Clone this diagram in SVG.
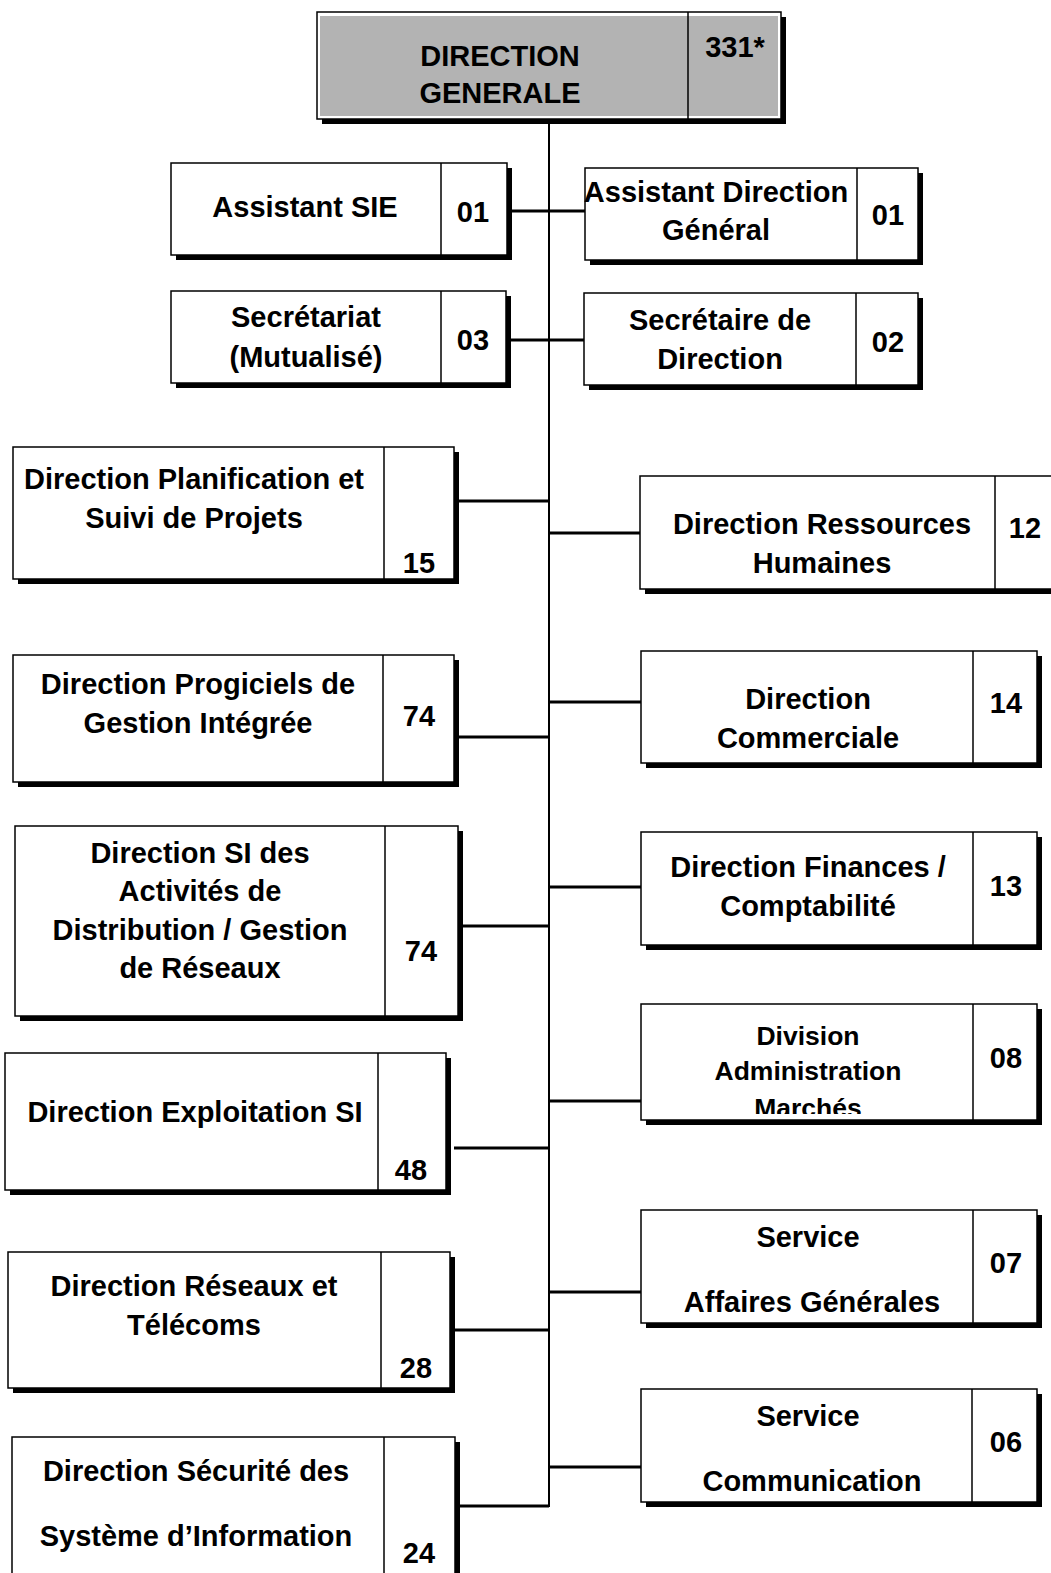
<svg xmlns="http://www.w3.org/2000/svg" width="1051" height="1573" viewBox="0 0 1051 1573">
<style>
.sh{fill:#000}
.bx{fill:#fff;stroke:#000;stroke-width:1.5}
.dv{stroke:#000;stroke-width:1.5}
.t{font-family:"Liberation Sans",Arial,sans-serif;font-weight:bold;font-size:29px;fill:#000;text-anchor:middle}
.s{font-size:26.5px}
.c{stroke:#000;stroke-width:3;fill:none}
.tr{stroke:#000;stroke-width:2;fill:none}
</style>
<defs>
<clipPath id="clipDiv"><rect x="641" y="1004" width="332" height="110"/></clipPath>
</defs>
<rect width="1051" height="1573" fill="#fff"/>
<g id="connectors">
<line class="tr" x1="549" y1="119" x2="549" y2="1507"/>
<line class="c" x1="507" y1="211" x2="585" y2="211"/>
<line class="c" x1="506" y1="340" x2="584" y2="340"/>
<line class="c" x1="454" y1="501" x2="549" y2="501"/>
<line class="c" x1="549" y1="533" x2="640" y2="533"/>
<line class="c" x1="549" y1="702" x2="641" y2="702"/>
<line class="c" x1="454" y1="737" x2="549" y2="737"/>
<line class="c" x1="549" y1="887" x2="641" y2="887"/>
<line class="c" x1="458" y1="926" x2="549" y2="926"/>
<line class="c" x1="549" y1="1101" x2="641" y2="1101"/>
<line class="c" x1="454" y1="1148" x2="549" y2="1148"/>
<line class="c" x1="549" y1="1292" x2="641" y2="1292"/>
<line class="c" x1="450" y1="1330" x2="549" y2="1330"/>
<line class="c" x1="549" y1="1467" x2="641" y2="1467"/>
<line class="c" x1="455" y1="1506" x2="549" y2="1506"/>
</g>
<g id="n-dg">
<rect class="sh" x="322" y="17" width="464" height="107"/>
<rect class="bx" x="317" y="12" width="464" height="107"/>
<rect x="320" y="16" width="458" height="100" fill="#b3b3b3"/>
<line class="dv" x1="688" y1="12" x2="688" y2="119"/>
<text class="t" x="500" y="66">DIRECTION</text>
<text class="t" x="500" y="103">GENERALE</text>
<text class="t" x="735" y="57">331*</text>
</g>
<g id="n-asie">
<rect class="sh" x="176" y="168" width="336" height="92"/>
<rect class="bx" x="171" y="163" width="336" height="92"/>
<line class="dv" x1="441" y1="163" x2="441" y2="255"/>
<text class="t" x="305" y="217">Assistant SIE</text>
<text class="t" x="473" y="222">01</text>
</g>
<g id="n-adg">
<rect class="sh" x="590" y="173" width="333" height="92"/>
<rect class="bx" x="585" y="168" width="333" height="92"/>
<line class="dv" x1="857" y1="168" x2="857" y2="260"/>
<text class="t" x="716" y="202">Assistant Direction</text>
<text class="t" x="716" y="240">Général</text>
<text class="t" x="888" y="225">01</text>
</g>
<g id="n-sec">
<rect class="sh" x="176" y="296" width="335" height="92"/>
<rect class="bx" x="171" y="291" width="335" height="92"/>
<line class="dv" x1="441" y1="291" x2="441" y2="383"/>
<text class="t" x="306" y="327">Secrétariat</text>
<text class="t" x="306" y="367">(Mutualisé)</text>
<text class="t" x="473" y="350">03</text>
</g>
<g id="n-sdd">
<rect class="sh" x="589" y="298" width="334" height="92"/>
<rect class="bx" x="584" y="293" width="334" height="92"/>
<line class="dv" x1="856" y1="293" x2="856" y2="385"/>
<text class="t" x="720" y="330">Secrétaire de</text>
<text class="t" x="720" y="369">Direction</text>
<text class="t" x="888" y="352">02</text>
</g>
<g id="n-plan">
<rect class="sh" x="18" y="452" width="441" height="132"/>
<rect class="bx" x="13" y="447" width="441" height="132"/>
<line class="dv" x1="384" y1="447" x2="384" y2="579"/>
<text class="t" x="194" y="489">Direction Planification et</text>
<text class="t" x="194" y="528">Suivi de Projets</text>
<text class="t" x="419" y="573">15</text>
</g>
<g id="n-rh">
<rect class="sh" x="645" y="481" width="420" height="113"/>
<rect class="bx" x="640" y="476" width="420" height="113"/>
<line class="dv" x1="995" y1="476" x2="995" y2="589"/>
<text class="t" x="822" y="534">Direction Ressources</text>
<text class="t" x="822" y="573">Humaines</text>
<text class="t" x="1025" y="538">12</text>
</g>
<g id="n-prog">
<rect class="sh" x="18" y="660" width="441" height="127"/>
<rect class="bx" x="13" y="655" width="441" height="127"/>
<line class="dv" x1="383" y1="655" x2="383" y2="782"/>
<text class="t" x="198" y="694">Direction Progiciels de</text>
<text class="t" x="198" y="733">Gestion Intégrée</text>
<text class="t" x="419" y="726">74</text>
</g>
<g id="n-com">
<rect class="sh" x="646" y="656" width="396" height="112"/>
<rect class="bx" x="641" y="651" width="396" height="112"/>
<line class="dv" x1="973" y1="651" x2="973" y2="763"/>
<text class="t" x="808" y="709">Direction</text>
<text class="t" x="808" y="748">Commerciale</text>
<text class="t" x="1006" y="713">14</text>
</g>
<g id="n-dist">
<rect class="sh" x="20" y="831" width="443" height="190"/>
<rect class="bx" x="15" y="826" width="443" height="190"/>
<line class="dv" x1="385" y1="826" x2="385" y2="1016"/>
<text class="t" x="200" y="863">Direction SI des</text>
<text class="t" x="200" y="901">Activités de</text>
<text class="t" x="200" y="940">Distribution / Gestion</text>
<text class="t" x="200" y="978">de Réseaux</text>
<text class="t" x="421" y="961">74</text>
</g>
<g id="n-fin">
<rect class="sh" x="646" y="837" width="396" height="113"/>
<rect class="bx" x="641" y="832" width="396" height="113"/>
<line class="dv" x1="973" y1="832" x2="973" y2="945"/>
<text class="t" x="808" y="877">Direction Finances /</text>
<text class="t" x="808" y="916">Comptabilité</text>
<text class="t" x="1006" y="896">13</text>
</g>
<g id="n-div">
<rect class="sh" x="646" y="1009" width="396" height="116"/>
<rect class="bx" x="641" y="1004" width="396" height="116"/>
<line class="dv" x1="973" y1="1004" x2="973" y2="1120"/>
<g clip-path="url(#clipDiv)">
<text class="t s" x="808" y="1045">Division</text>
<text class="t s" x="808" y="1080">Administration</text>
<text class="t s" x="808" y="1117">Marchés</text>
</g>
<text class="t" x="1006" y="1068">08</text>
</g>
<g id="n-exp">
<rect class="sh" x="10" y="1058" width="441" height="137"/>
<rect class="bx" x="5" y="1053" width="441" height="137"/>
<line class="dv" x1="378" y1="1053" x2="378" y2="1190"/>
<text class="t" x="195" y="1122">Direction Exploitation SI</text>
<text class="t" x="411" y="1180">48</text>
</g>
<g id="n-ag">
<rect class="sh" x="646" y="1215" width="396" height="113"/>
<rect class="bx" x="641" y="1210" width="396" height="113"/>
<line class="dv" x1="973" y1="1210" x2="973" y2="1323"/>
<text class="t" x="808" y="1247">Service</text>
<text class="t" x="812" y="1312">Affaires Générales</text>
<text class="t" x="1006" y="1273">07</text>
</g>
<g id="n-res">
<rect class="sh" x="13" y="1257" width="442" height="136"/>
<rect class="bx" x="8" y="1252" width="442" height="136"/>
<line class="dv" x1="381" y1="1252" x2="381" y2="1388"/>
<text class="t" x="194" y="1296">Direction Réseaux et</text>
<text class="t" x="194" y="1335">Télécoms</text>
<text class="t" x="416" y="1378">28</text>
</g>
<g id="n-comm">
<rect class="sh" x="646" y="1394" width="396" height="113"/>
<rect class="bx" x="641" y="1389" width="396" height="113"/>
<line class="dv" x1="972" y1="1389" x2="972" y2="1502"/>
<text class="t" x="808" y="1426">Service</text>
<text class="t" x="812" y="1491">Communication</text>
<text class="t" x="1006" y="1452">06</text>
</g>
<g id="n-secu">
<rect class="sh" x="17" y="1442" width="443" height="150"/>
<rect class="bx" x="12" y="1437" width="443" height="150"/>
<line class="dv" x1="384" y1="1437" x2="384" y2="1587"/>
<text class="t" x="196" y="1481">Direction Sécurité des</text>
<text class="t" x="196" y="1546">Système d’Information</text>
<text class="t" x="419" y="1563">24</text>
</g>
</svg>
